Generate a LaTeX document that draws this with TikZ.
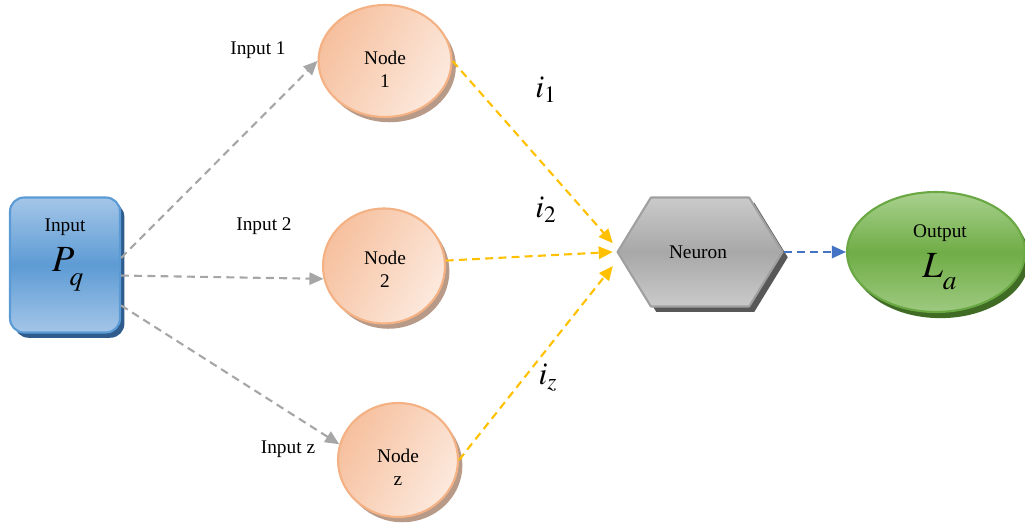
\documentclass[tikz,border=0pt]{standalone}
\usepackage{mathptmx}
\usepackage{fontspec}
\setmainfont{Liberation Serif}
\usetikzlibrary{shapes.geometric,shapes.symbols,shadows,arrows.meta}

\definecolor{boxline}{HTML}{5B9BD5}
\definecolor{boxlight}{HTML}{A4C6E8}
\definecolor{boxmid}{HTML}{5D9BD4}
\definecolor{boxshade}{HTML}{2F5C8C}
\definecolor{peachline}{HTML}{F4B183}
\definecolor{peachdark}{HTML}{F6C09E}
\definecolor{peachlight}{HTML}{FCE9DD}
\definecolor{peachshade}{HTML}{B89A88}
\definecolor{greyline}{HTML}{A0A0A0}
\definecolor{greylight}{HTML}{CACACA}
\definecolor{greymid}{HTML}{A8A8A8}
\definecolor{greyshade}{HTML}{585858}
\definecolor{greenline}{HTML}{6AA844}
\definecolor{greenlight}{HTML}{A9D18E}
\definecolor{greenmid}{HTML}{70AD47}
\definecolor{greenshade}{HTML}{3F6B25}
\definecolor{wire}{HTML}{A6A6A6}
\definecolor{weightline}{HTML}{FFC000}
\definecolor{outwire}{HTML}{4472C4}

\tikzset{
  inbox/.style={draw=boxline, line width=1.2pt, rounded corners=8pt,
    top color=boxlight, bottom color=boxlight, middle color=boxmid,
    minimum width=2.2cm, minimum height=2.7cm,
    drop shadow={shadow xshift=2.5pt, shadow yshift=-3pt, fill=boxshade, opacity=1}},
  cell/.style={ellipse, draw=peachline, line width=1.2pt, inner sep=0pt,
    left color=peachdark, right color=peachlight, shading angle=60,
    drop shadow={shadow xshift=2.5pt, shadow yshift=-3pt, fill=peachshade, opacity=1}},
  neuronbox/.style={shape=signal, signal to=west and east, signal pointer angle=117,
    draw=greyline, line width=1.2pt, inner sep=0pt,
    minimum width=3.3cm, minimum height=2.18cm,
    top color=greylight, bottom color=greylight, middle color=greymid,
    drop shadow={shadow xshift=3pt, shadow yshift=-3pt, fill=greyshade, opacity=1}},
  outbox/.style={ellipse, draw=greenline, line width=1.2pt, inner sep=0pt,
    minimum width=3.56cm, minimum height=2.4cm,
    top color=greenlight, bottom color=greenlight!80!greenmid, middle color=greenmid,
    drop shadow={shadow xshift=2.5pt, shadow yshift=-3.5pt, fill=greenshade, opacity=1}},
  feed/.style={->, draw=wire, dash pattern=on 4.5pt off 3pt, line width=1.2pt},
  weight/.style={->, draw=weightline, dash pattern=on 4.5pt off 3pt, line width=1.2pt},
  result/.style={->, draw=outwire, dash pattern=on 4.5pt off 3pt, line width=1.2pt},
  big/.style={font=\fontsize{21}{21}\selectfont, inner sep=0.5pt, anchor=base},
  mid/.style={font=\fontsize{18}{18}\selectfont}
}

\begin{document}
\begin{tikzpicture}[x=0.02cm, y=-0.02cm, font=\fontsize{11}{13}\selectfont, line join=round,
  >={Triangle[length=8pt,width=7pt]}]
  \useasboundingbox (0,0) rectangle (1025,527);

  \node[inbox] (inp) at (65,265) {};
  \node[inner sep=0.5pt, anchor=base] (inptext) at (65,232) {Input};
  \node[big] (inpvar) at (68,271) {$P_{\lower5pt\hbox{$\scriptstyle q$}}$};

  \node[cell, minimum width=2.66cm, minimum height=2.24cm] (n1) at (385,61) {};
  \node[cell, minimum width=2.44cm, minimum height=2.3cm] (n2) at (384,266) {};
  \node[cell, minimum width=2.4cm, minimum height=2.28cm] (nz) at (398,460) {};
  \node[align=center] (n1text) at (385,69) {Node\\1};
  \node[align=center] (n2text) at (385,269) {Node\\2};
  \node[align=center] (nztext) at (398,467) {Node\\z};

  \node[neuronbox] (neu) at (700,252) {};
  \node (neutext) at (698,252) {Neuron};

  \node[outbox] (out) at (936,252) {};
  \node[inner sep=1pt, anchor=base] (outtext) at (940,237) {Output};
  \node[big] (outvar) at (940,277) {$L_{\lower4pt\hbox{$\scriptstyle a$}}$};

  \node (lab1) at (258,50) {Input 1};
  \node (lab2) at (264,226) {Input 2};
  \node (labz) at (288,449) {Input z};
  \node[mid] (w1) at (546,90) {$i_1$};
  \node[mid] (w2) at (546,210) {$i_2$};
  \node[mid] (wz) at (548,378) {$i_z$};

  \draw[feed] ([yshift=4pt]inp.east) -- (n1.west);
  \draw[feed] ([yshift=-6pt]inp.east) -- (n2.192);
  \draw[feed] ([yshift=-23pt]inp.east) -- (nz.165);

  \draw[weight] (n1.east) -- ([xshift=-2pt, yshift=5pt]neu.west);
  \draw[weight] (n2.5) -- ([xshift=-2pt]neu.west);
  \draw[weight] (nz.east) -- ([xshift=-2pt, yshift=-8pt]neu.west);

  \draw[result] (neu.east) -- (out.west);
\end{tikzpicture}
\end{document}
